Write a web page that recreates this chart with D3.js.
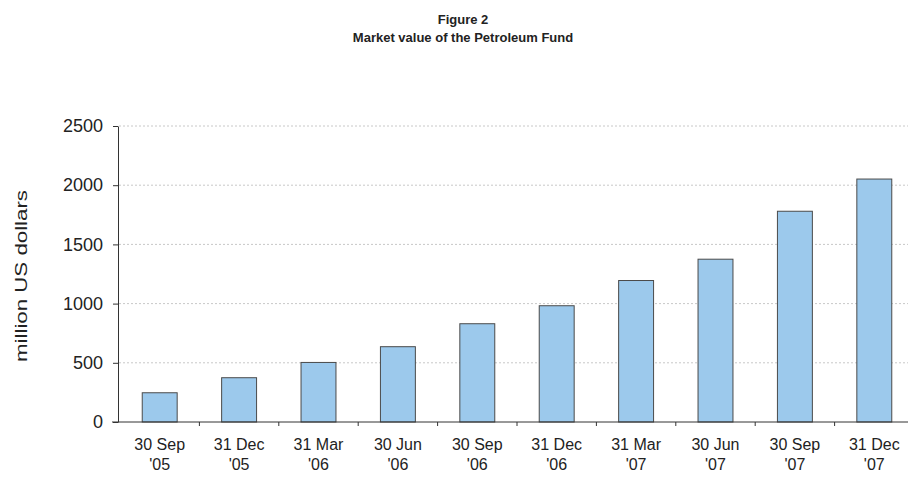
<!DOCTYPE html>
<html>
<head>
<meta charset="utf-8">
<script src="https://cdn.jsdelivr.net/npm/d3@7"></script>
<style>
  body { margin: 0; background: #fff; }
  svg { display: block; font-family: Arial, "Liberation Sans", sans-serif; }
</style>
</head>
<body>
<svg id="chart" width="908" height="492"></svg>
<script>
"use strict";

// quarter-end labels, two lines each
const quarters = ["30 Sep", "31 Dec", "31 Mar", "30 Jun", "30 Sep", "31 Dec", "31 Mar", "30 Jun", "30 Sep", "31 Dec"];
const years = ["'05", "'05", "'06", "'06", "'06", "'06", "'07", "'07", "'07", "'07"];
// market value, million US dollars
const values = [247, 374, 503, 636, 830, 982, 1195, 1375, 1780, 2052];
const yTicks = [0, 500, 1000, 1500, 2000, 2500];

const svg = d3.select("#chart");

const x = d3.scaleBand()
    .domain(d3.range(values.length))
    .range([120, 914])
    .paddingInner(0.56)
    .paddingOuter(0.28);

const y = d3.scaleLinear()
    .domain([0, 2500])
    .range([422, 126]);

// title
svg.append("text")
    .attr("x", 463).attr("y", 24)
    .attr("text-anchor", "middle")
    .style("font-size", "13px").style("font-weight", "bold")
    .attr("fill", "#222")
    .text("Figure 2");
svg.append("text")
    .attr("x", 463).attr("y", 42)
    .attr("text-anchor", "middle")
    .style("font-size", "13px").style("font-weight", "bold")
    .attr("fill", "#222")
    .text("Market value of the Petroleum Fund");

// grid
svg.append("g")
    .selectAll("line")
    .data(yTicks.filter(d => d > 0))
    .enter().append("line")
    .attr("x1", 119).attr("x2", 908)
    .attr("y1", d => y(d)).attr("y2", d => y(d))
    .attr("stroke", "#c8c8c8")
    .attr("stroke-dasharray", "2,2");

// bars
svg.append("g")
    .selectAll("rect")
    .data(values)
    .enter().append("rect")
    .attr("x", (d, i) => x(i))
    .attr("width", x.bandwidth())
    .attr("y", d => y(d))
    .attr("height", d => y(0) - y(d))
    .attr("fill", "#9cc9ec")
    .attr("stroke", "#4a4a4a")
    .attr("stroke-width", 1);

// y axis
const yAxis = svg.append("g")
    .attr("transform", "translate(118,0)")
    .call(d3.axisLeft(y).tickValues(yTicks).tickFormat(d3.format("d"))
        .tickSize(5).tickPadding(10).tickSizeOuter(0));
yAxis.select(".domain").attr("stroke", "#333");
yAxis.selectAll(".tick line").attr("stroke", "#333");
yAxis.selectAll("text")
    .style("font-size", "18px")
    .attr("fill", "#222");

// x axis: ticks between categories
const xAxis = svg.append("g")
    .attr("transform", "translate(0," + y(0) + ")");
xAxis.append("line")
    .attr("x1", 112).attr("x2", 908)
    .attr("stroke", "#333");
xAxis.selectAll("line.tk")
    .data(d3.range(1, values.length))
    .enter().append("line")
    .attr("class", "tk")
    .attr("x1", d => x(d) - x.step() * x.paddingInner() / 2)
    .attr("x2", d => x(d) - x.step() * x.paddingInner() / 2)
    .attr("y1", 0).attr("y2", 4)
    .attr("stroke", "#333");

const labels = xAxis.selectAll("text.lbl")
    .data(values.map((d, i) => i))
    .enter().append("text")
    .attr("class", "lbl")
    .attr("text-anchor", "middle")
    .style("font-size", "16px")
    .attr("fill", "#222");
labels.append("tspan")
    .attr("x", i => x(i) + x.bandwidth() / 2)
    .attr("y", 28)
    .text(i => quarters[i]);
labels.append("tspan")
    .attr("x", i => x(i) + x.bandwidth() / 2)
    .attr("y", 48)
    .text(i => years[i]);

// y axis title
svg.append("text")
    .attr("transform", "translate(27,276) rotate(-90)")
    .attr("text-anchor", "middle")
    .style("font-size", "17px")
    .attr("textLength", 172)
    .attr("lengthAdjust", "spacingAndGlyphs")
    .attr("fill", "#222")
    .text("million US dollars");
</script>
</body>
</html>
